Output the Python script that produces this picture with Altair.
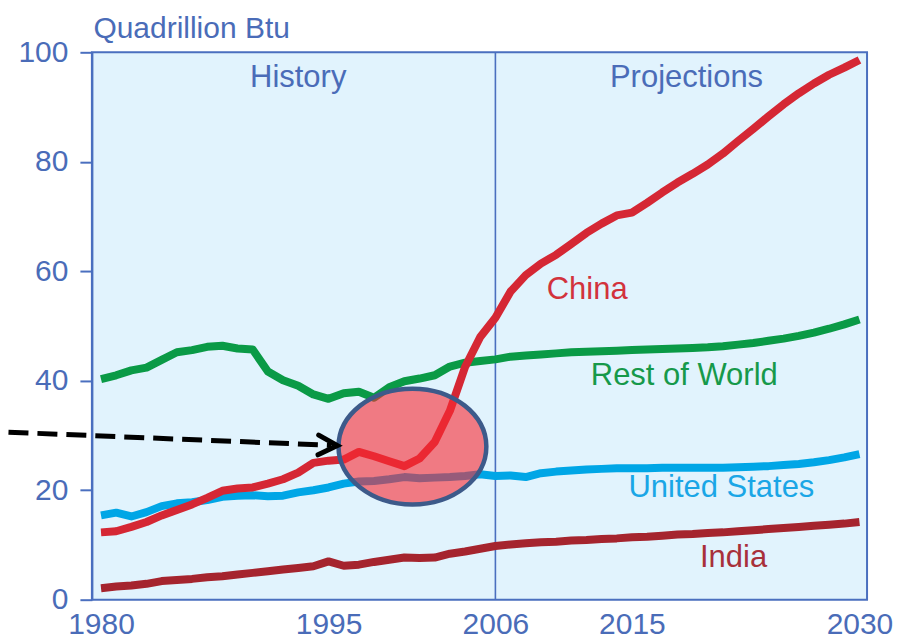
import altair as alt
import pandas as pd

# ---------------- data ----------------
years = list(range(1980, 2031))

china = [12.3, 12.5, 13.3, 14.2, 15.4, 16.4, 17.4, 18.6, 19.9, 20.3,
         20.5, 21.2, 22.0, 23.2, 25.0, 25.4, 25.6, 27.0, 26.2, 25.3,
         24.4, 25.8, 28.8, 34.5, 42.5, 48.0, 51.5, 56.3, 59.3, 61.4,
         63.0, 65.0, 67.0, 68.7, 70.2, 70.7, 72.5, 74.4, 76.2, 77.8,
         79.5, 81.5, 83.8, 86.0, 88.3, 90.5, 92.5, 94.3, 95.9, 97.2,
         98.6]

rest_of_world = [40.3, 41.0, 41.9, 42.4, 43.8, 45.2, 45.6, 46.2, 46.4, 45.9,
                 45.7, 41.7, 40.1, 39.1, 37.5, 36.7, 37.7, 38.0, 36.9, 38.8,
                 39.9, 40.4, 41.0, 42.6, 43.3, 43.6, 43.9, 44.4, 44.6, 44.8,
                 45.0, 45.2, 45.3, 45.4, 45.5, 45.6, 45.7, 45.8, 45.9, 46.0,
                 46.1, 46.3, 46.6, 46.9, 47.3, 47.7, 48.2, 48.8, 49.5, 50.3,
                 51.2]

united_states = [15.4, 15.9, 15.2, 16.0, 17.1, 17.6, 17.8, 18.2, 18.8, 19.0,
                 19.1, 18.9, 19.0, 19.6, 20.0, 20.5, 21.2, 21.6, 21.7, 22.0,
                 22.4, 22.2, 22.3, 22.4, 22.6, 22.9, 22.6, 22.7, 22.4, 23.1,
                 23.4, 23.6, 23.8, 23.9, 24.0, 24.0, 24.0, 24.1, 24.1, 24.1,
                 24.1, 24.1, 24.2, 24.3, 24.4, 24.6, 24.8, 25.1, 25.5, 26.0,
                 26.6]

india = [2.1, 2.4, 2.6, 2.9, 3.4, 3.6, 3.8, 4.1, 4.3, 4.6,
         4.9, 5.2, 5.5, 5.8, 6.1, 7.0, 6.2, 6.4, 6.9, 7.3,
         7.7, 7.6, 7.7, 8.4, 8.8, 9.3, 9.8, 10.1, 10.3, 10.5,
         10.6, 10.8, 10.9, 11.1, 11.2, 11.4, 11.5, 11.7, 11.9, 12.0,
         12.2, 12.3, 12.5, 12.7, 12.9, 13.1, 13.3, 13.5, 13.7, 13.9,
         14.2]

series_names = ["India", "United States", "Rest of World", "China"]
series_values = [india, united_states, rest_of_world, china]
series_colors = ["#a5242e", "#00a6e6", "#0a9a46", "#d52734"]
label_colors = ["#a8303a", "#1aa6e6", "#16994a", "#d2323c"]

# direct labels: text, year, value
label_years = [2021.7, 2020.9, 2018.45, 2012.05]
label_values = [6.0, 18.8, 39.2, 55.0]

x_ticks = [1980, 1995, 2006, 2015, 2030]
y_ticks = [0, 20, 40, 60, 80, 100]

divider_year = [2006]
period_names = ["History", "Projections"]
period_years = [1993.0, 2018.6]
period_values = [93.6, 93.6]

# annotation: highlighted ellipse + dashed arrow
ellipse_center_year = [2000.53]
ellipse_center_value = [27.97]
arrow_years = [1973.9, 1995.2]
arrow_values = [30.6, 28.2]
arrow_tip_year = [1995.58]
arrow_tip_value = [28.15]

# ---------------- styling ----------------
BLUE = "#4a6fbf"
TEXT_BLUE = "#4a6cb8"
FONT = "Liberation Sans"

x_scale = alt.Scale(domain=[1979.4, 2030.5], nice=False, zero=False)
y_scale = alt.Scale(domain=[0, 100], nice=False)

x_axis = alt.Axis(values=x_ticks, format="d", ticks=False, grid=False,
                  domain=False, labelFontSize=30, labelColor=TEXT_BLUE,
                  labelFont=FONT, labelPadding=10, title=None,
                  labelFlush=False, labelOverlap=False)
y_axis = alt.Axis(values=y_ticks, grid=False, domain=True, domainColor=BLUE,
                  domainWidth=2, ticks=True, tickSize=12, tickWidth=2,
                  tickColor=BLUE, labelFontSize=30, labelColor=TEXT_BLUE,
                  labelFont=FONT, labelPadding=12, title="Quadrillion Btu",
                  titleAngle=0, titleAlign="left", titleBaseline="alphabetic",
                  titleX=1, titleY=-15, titleFontSize=30,
                  titleFontWeight="normal", titleColor=TEXT_BLUE,
                  titleFont=FONT)

layers = []

# vertical divider at 2006
div_df = pd.DataFrame({"year": divider_year})
layers.append(
    alt.Chart(div_df).mark_rule(color=BLUE, strokeWidth=1.6).encode(
        x=alt.X("year:Q", scale=x_scale, axis=x_axis),
    )
)

# lines
for name, vals, col in zip(series_names, series_values, series_colors):
    df = pd.DataFrame({"year": years, "value": vals, "series": name})
    layers.append(
        alt.Chart(df).mark_line(color=col, strokeWidth=8, strokeJoin="round",
                                strokeCap="butt", clip=True).encode(
            x=alt.X("year:Q", scale=x_scale, axis=x_axis),
            y=alt.Y("value:Q", scale=y_scale, axis=y_axis),
        )
    )

# direct labels
for name, yr, val, col in zip(series_names, label_years, label_values, label_colors):
    ldf = pd.DataFrame({"year": [yr], "value": [val], "text": [name]})
    layers.append(
        alt.Chart(ldf).mark_text(color=col, fontSize=31, font=FONT,
                                 align="center", baseline="alphabetic").encode(
            x=alt.X("year:Q", scale=x_scale),
            y=alt.Y("value:Q", scale=y_scale),
            text="text:N",
        )
    )

# period headers
pdf = pd.DataFrame({"year": period_years, "value": period_values, "text": period_names})
layers.append(
    alt.Chart(pdf).mark_text(color=TEXT_BLUE, fontSize=31, font=FONT,
                             align="center", baseline="alphabetic").encode(
        x=alt.X("year:Q", scale=x_scale),
        y=alt.Y("value:Q", scale=y_scale),
        text="text:N",
    )
)

# ellipse highlight
ELLIPSE = "M -1,0 A 1,0.784 0 1,0 1,0 A 1,0.784 0 1,0 -1,0 Z"
edf = pd.DataFrame({"year": ellipse_center_year, "value": ellipse_center_value})
layers.append(
    alt.Chart(edf).mark_point(shape=ELLIPSE, size=148 * 148, filled=True,
                              fill="#fa2a32", fillOpacity=0.6,
                              stroke="#3d5a8a", strokeWidth=4.5,
                              strokeOpacity=1, opacity=1).encode(
        x=alt.X("year:Q", scale=x_scale),
        y=alt.Y("value:Q", scale=y_scale),
    )
)

# dashed arrow
adf = pd.DataFrame({"year": arrow_years, "value": arrow_values})
layers.append(
    alt.Chart(adf).mark_line(color="black", strokeWidth=5,
                             strokeDash=[20, 9], clip=False).encode(
        x=alt.X("year:Q", scale=x_scale),
        y=alt.Y("value:Q", scale=y_scale),
    )
)
CHEVRON = "M -1,-0.52 L 0,0 L -1,0.52"
tdf = pd.DataFrame({"year": arrow_tip_year, "value": arrow_tip_value})
layers.append(
    alt.Chart(tdf).mark_point(shape=CHEVRON, size=38 * 38, filled=False,
                              stroke="black", strokeWidth=5, opacity=1,
                              strokeCap="round", strokeJoin="miter",
                              angle=2, clip=False).encode(
        x=alt.X("year:Q", scale=x_scale),
        y=alt.Y("value:Q", scale=y_scale),
    )
)

chart = alt.layer(*layers).properties(
    width=776, height=548,
    autosize=alt.AutoSizeParams(type="none"),
    padding={"left": 84, "top": 44, "right": 40, "bottom": 44},
    background="white",
).configure_view(
    fill="#e1f3fd", stroke=BLUE, strokeWidth=2
)

chart.save("out.html", embed_options={"renderer": "svg", "actions": False})
